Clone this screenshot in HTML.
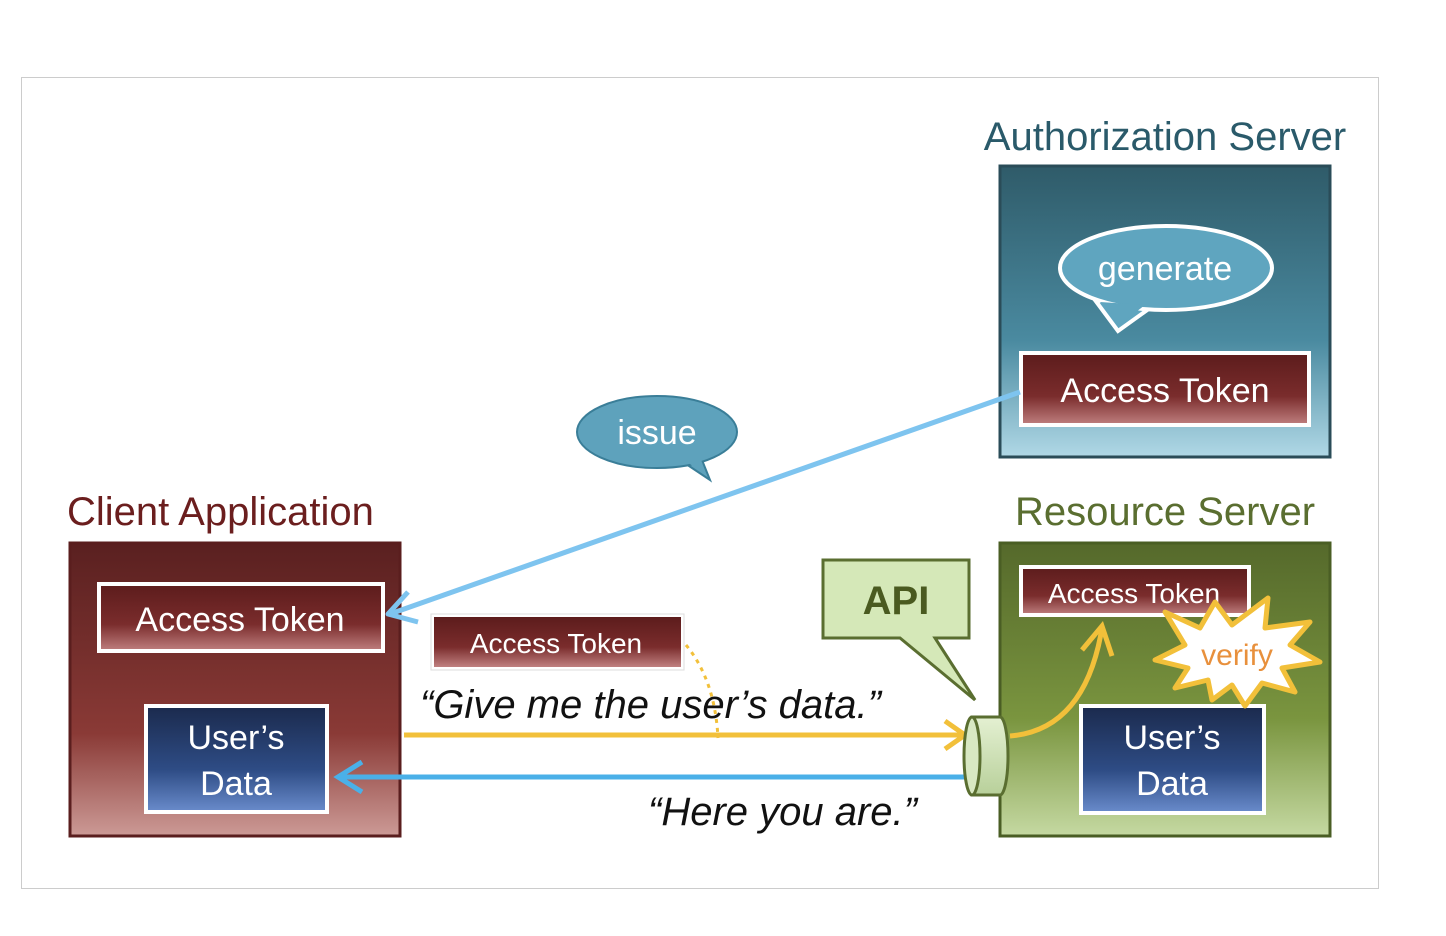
<!DOCTYPE html>
<html><head><style>body{margin:0;background:#fff}svg{display:block}</style></head><body>
<svg width="1446" height="936" viewBox="0 0 1446 936" xmlns="http://www.w3.org/2000/svg" font-family="Liberation Sans, sans-serif">
<defs>
<linearGradient id="teal" x1="0" y1="0" x2="0" y2="1"><stop offset="0" stop-color="#2f5b69"/><stop offset="0.6" stop-color="#4a8aa0"/><stop offset="1" stop-color="#b0d8e6"/></linearGradient>
<linearGradient id="red" x1="0" y1="0" x2="0" y2="1"><stop offset="0" stop-color="#5a2020"/><stop offset="0.65" stop-color="#8a3a36"/><stop offset="1" stop-color="#cc9a96"/></linearGradient>
<linearGradient id="green" x1="0" y1="0" x2="0" y2="1"><stop offset="0" stop-color="#55692b"/><stop offset="0.6" stop-color="#7a953f"/><stop offset="1" stop-color="#c5d9a2"/></linearGradient>
<linearGradient id="tok" x1="0" y1="0" x2="0" y2="1"><stop offset="0" stop-color="#5c1c1c"/><stop offset="0.6" stop-color="#7a2c2c"/><stop offset="1" stop-color="#c08080"/></linearGradient>
<linearGradient id="navy" x1="0" y1="0" x2="0" y2="1"><stop offset="0" stop-color="#1b2a4d"/><stop offset="0.6" stop-color="#2e4c85"/><stop offset="1" stop-color="#6a8ccc"/></linearGradient>
<linearGradient id="cyl" x1="0" y1="0" x2="0" y2="1"><stop offset="0" stop-color="#e4f0d2"/><stop offset="1" stop-color="#b8d09a"/></linearGradient>
</defs>
<rect x="21.5" y="77.5" width="1357" height="811" fill="#fff" stroke="#ccc"/>

<!-- Auth server -->
<text x="1165" y="150" font-size="40" fill="#2a5a6a" text-anchor="middle">Authorization Server</text>
<rect x="1000" y="166" width="330" height="291" fill="url(#teal)" stroke="#2a4c58" stroke-width="3"/>
<path d="M1095 300 L1118 331 L1150 308 Z" fill="#5fa5bf" stroke="#fff" stroke-width="4"/>
<ellipse cx="1166" cy="268" rx="106" ry="42" fill="#5fa5bf" stroke="#fff" stroke-width="4"/>
<path d="M1100 302 L1118 326 L1145 305 Z" fill="#5fa5bf"/>
<text x="1165" y="280" font-size="34" fill="#fff" text-anchor="middle">generate</text>
<rect x="1021" y="353" width="288" height="72" fill="url(#tok)" stroke="#fff" stroke-width="4"/>
<text x="1165" y="402" font-size="34" fill="#fff" text-anchor="middle">Access Token</text>

<!-- issue -->
<path d="M680 460 L710 480 L700 455 Z" fill="#5ea2bc" stroke="#3a7e98" stroke-width="2"/>
<ellipse cx="657" cy="432" rx="80" ry="36" fill="#5ea2bc" stroke="#3a7e98" stroke-width="2"/>
<path d="M682 458 L706 476 L700 456 Z" fill="#5ea2bc"/>
<text x="657" y="444" font-size="34" fill="#fff" text-anchor="middle">issue</text>

<!-- Client -->
<text x="67" y="525" font-size="40" fill="#6b1e1e">Client Application</text>
<rect x="70" y="543" width="330" height="293" fill="url(#red)" stroke="#5a1e1e" stroke-width="3"/>
<rect x="99" y="584" width="284" height="67" fill="url(#tok)" stroke="#fff" stroke-width="4"/>
<text x="240" y="631" font-size="34" fill="#fff" text-anchor="middle">Access Token</text>
<rect x="146" y="706" width="181" height="106" fill="url(#navy)" stroke="#fff" stroke-width="4"/>
<text x="236" y="749" font-size="34" fill="#fff" text-anchor="middle">User’s</text>
<text x="236" y="795" font-size="34" fill="#fff" text-anchor="middle">Data</text>

<line x1="1020" y1="392" x2="390" y2="614" stroke="#7ec4ef" stroke-width="5"/>
<path d="M408 592 L388 614 L418 622" fill="none" stroke="#7ec4ef" stroke-width="5" stroke-linejoin="round"/>

<!-- middle -->
<rect x="431" y="614" width="253" height="56" fill="#fff" stroke="#ddd" stroke-width="1"/>
<rect x="434" y="617" width="247" height="50" fill="url(#tok)"/>
<text x="556" y="653" font-size="28" fill="#fff" text-anchor="middle">Access Token</text>
<path d="M686 645 Q715 680 718 738" fill="none" stroke="#f2c03a" stroke-width="3" stroke-dasharray="4 5"/>
<text x="420" y="718" font-size="40" font-style="italic" fill="#111">“Give me the user’s data.”</text>
<line x1="404" y1="735" x2="962" y2="735" stroke="#f2c03a" stroke-width="5"/>
<path d="M945 721 L965 735 L945 749" fill="none" stroke="#f2c03a" stroke-width="5"/>
<line x1="338" y1="777" x2="975" y2="777" stroke="#4ab0e8" stroke-width="5"/>
<path d="M362 762 L338 777 L362 792" fill="none" stroke="#4ab0e8" stroke-width="5"/>
<line x1="1005" y1="777" x2="1082" y2="777" stroke="#4ab0e8" stroke-width="5"/>
<text x="648" y="825" font-size="40" font-style="italic" fill="#111">“Here you are.”</text>

<!-- API -->
<path d="M823 560 H969 V638 H935 L975 700 L900 638 H823 Z" fill="#d5e8b8" stroke="#5a6e30" stroke-width="3"/>
<text x="896" y="614" font-size="40" font-weight="bold" fill="#4a5a20" text-anchor="middle">API</text>

<!-- Resource -->
<text x="1165" y="525" font-size="40" fill="#5a6e30" text-anchor="middle">Resource Server</text>
<rect x="1000" y="543" width="330" height="293" fill="url(#green)" stroke="#4a5e24" stroke-width="3"/>
<rect x="1021" y="567" width="228" height="48" fill="url(#tok)" stroke="#fff" stroke-width="4"/>
<text x="1134" y="603" font-size="28" fill="#fff" text-anchor="middle">Access Token</text>

<!-- cylinder -->
<path d="M972 717 H1000 A8 39 0 0 1 1000 795 H972 Z" fill="url(#cyl)" stroke="#5a6e30" stroke-width="3"/>
<ellipse cx="972" cy="756" rx="8" ry="39" fill="#d8e8c2" stroke="#5a6e30" stroke-width="3"/>

<path d="M1010 736 Q1085 730 1102 628" fill="none" stroke="#f2c03a" stroke-width="5"/>
<path d="M1082 650 L1102 626 L1112 656" fill="none" stroke="#f2c03a" stroke-width="5"/>

<rect x="1081" y="706" width="183" height="107" fill="url(#navy)" stroke="#fff" stroke-width="4"/>
<text x="1172" y="749" font-size="34" fill="#fff" text-anchor="middle">User’s</text>
<text x="1172" y="795" font-size="34" fill="#fff" text-anchor="middle">Data</text>

<!-- verify burst -->
<polygon points="1165,612 1200,628 1215,602 1232,625 1268,598 1265,628 1310,622 1290,645 1320,662 1282,668 1295,692 1262,683 1245,706 1232,685 1212,700 1208,680 1175,688 1188,668 1155,660 1185,645" fill="#fff" stroke="#f2c03a" stroke-width="5" stroke-linejoin="round"/>
<text x="1237" y="665" font-size="30" fill="#e8903c" text-anchor="middle">verify</text>
</svg>
</body></html>
